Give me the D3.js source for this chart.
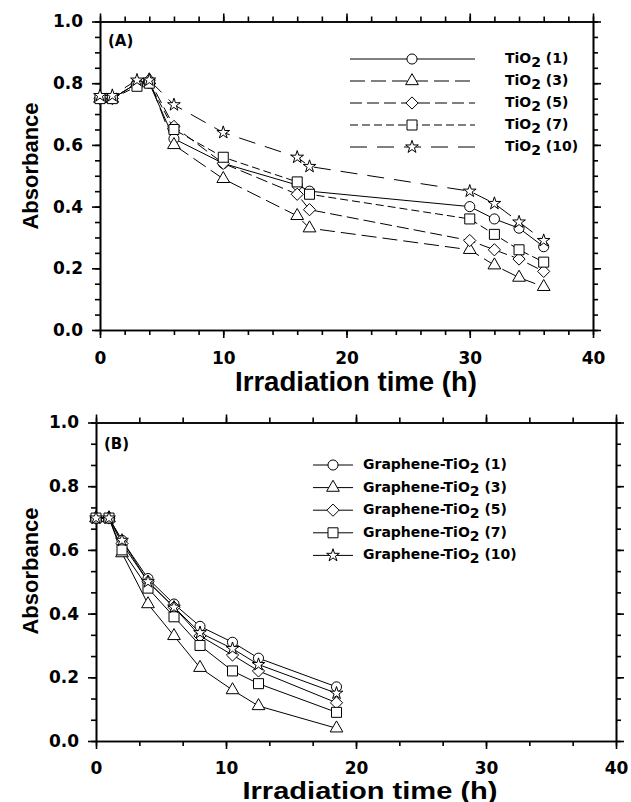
<!DOCTYPE html>
<html>
<head>
<meta charset="utf-8">
<script src="https://cdn.jsdelivr.net/npm/d3@7"></script>
<style>
  body { margin: 0; background: #fff; }
  text { font-family: "Liberation Sans", Arial, sans-serif; font-weight: bold; fill: #000; }
  .tick text, .legend text, .tag { font-family: "DejaVu Sans", sans-serif; font-weight: bold; }
  .tick text { font-size: 17px; }
</style>
</head>
<body>
<div class="chart"></div>
<script>
// panel A: TiO2
const timeA = [0, 1, 3, 4, 6, 10, 16, 17, 30, 32, 34, 36];
const tio2_1 = [0.75, 0.75, 0.80, 0.80, 0.62, 0.54, 0.47, 0.45, 0.40, 0.36, 0.33, 0.27];
const tio2_3 = [0.75, 0.75, 0.80, 0.81, 0.60, 0.49, 0.37, 0.33, 0.26, 0.21, 0.17, 0.14];
const tio2_5 = [0.75, 0.75, 0.80, 0.81, 0.66, 0.54, 0.44, 0.39, 0.29, 0.26, 0.23, 0.19];
const tio2_7 = [0.75, 0.75, 0.79, 0.80, 0.65, 0.56, 0.48, 0.44, 0.36, 0.31, 0.26, 0.22];
const tio2_10 = [0.76, 0.76, 0.81, 0.81, 0.73, 0.64, 0.56, 0.53, 0.45, 0.41, 0.35, 0.29];

// panel B: Graphene-TiO2
const timeB = [0, 1, 2, 4, 6, 8, 10.5, 12.5, 18.5];
const gr_1 = [0.70, 0.70, 0.63, 0.51, 0.43, 0.36, 0.31, 0.26, 0.17];
const gr_3 = [0.70, 0.70, 0.59, 0.43, 0.33, 0.23, 0.16, 0.11, 0.04];
const gr_5 = [0.70, 0.70, 0.62, 0.50, 0.42, 0.33, 0.27, 0.22, 0.12];
const gr_7 = [0.70, 0.70, 0.60, 0.48, 0.39, 0.30, 0.22, 0.18, 0.09];
const gr_10 = [0.70, 0.70, 0.63, 0.50, 0.42, 0.34, 0.29, 0.24, 0.15];

const seriesLabels = ['(1)', '(3)', '(5)', '(7)', '(10)'];
const xTickLabels = [0, 10, 20, 30, 40];
const yTickLabels = [0, 0.2, 0.4, 0.6, 0.8, 1.0];

const symbols = [d3.symbolCircle, d3.symbolTriangle, d3.symbolDiamond2, d3.symbolSquare, d3.symbolStar];
const symSizes = [80, 70, 95, 100, 50];

const svg = d3.select('.chart')
  .append('svg')
  .attr('width', 631)
  .attr('height', 802);

function drawPanel(p) {
  const x = d3.scaleLinear().domain([0, 40]).range([p.left, p.right]);
  const y = d3.scaleLinear().domain([0, 1]).range([p.bottom, p.top]);
  const g = svg.append('g');

  // minor ticks first, then labelled major ticks
  const axes = [
    [d3.axisBottom, `translate(0,${p.bottom})`, x, p.xMinor, xTickLabels, d3.format('d')],
    [d3.axisTop, `translate(0,${p.top})`, x, p.xMinor, xTickLabels, null],
    [d3.axisLeft, `translate(${p.left},0)`, y, p.yMinor, yTickLabels, d3.format('.1f')],
    [d3.axisRight, `translate(${p.right},0)`, y, p.yMinor, yTickLabels, null]
  ];
  axes.forEach(([ax, tr, sc, minor, major, fmt]) => {
    g.append('g').attr('transform', tr)
      .call(ax(sc).tickValues(minor).tickSize(5).tickSizeOuter(0).tickFormat(''));
    const vertical = ax === d3.axisLeft || ax === d3.axisRight;
    g.append('g').attr('transform', tr)
      .call(ax(sc).tickValues(major).tickSize(8).tickSizeOuter(0)
        .tickPadding(vertical ? 9 : p.xPad).tickFormat(fmt || ''));
  });
  g.selectAll('.domain, .tick line').attr('stroke', '#000').attr('stroke-width', 1.6);

  const line = d3.line().x(d => x(d[0])).y(d => y(d[1]));

  p.series.forEach((vals, i) => {
    const pts = vals.map((v, j) => [p.time[j], v]);
    g.append('path')
      .attr('d', line(pts))
      .attr('fill', 'none')
      .attr('stroke', '#000')
      .attr('stroke-width', 1)
      .attr('stroke-dasharray', p.dashes[i]);
  });
  p.series.forEach((vals, i) => {
    g.selectAll(null)
      .data(vals.map((v, j) => [p.time[j], v]))
      .enter()
      .append('path')
      .attr('d', d3.symbol(symbols[i], symSizes[i]))
      .attr('transform', d => `translate(${x(d[0])},${y(d[1])})`)
      .attr('fill', '#fff')
      .attr('stroke', '#000')
      .attr('stroke-width', 1);
  });

  // legend
  const leg = g.append('g').attr('class', 'legend');
  p.series.forEach((vals, i) => {
    const ly = p.leg.y + p.leg.dy * i;
    leg.append('line')
      .attr('x1', p.leg.x1).attr('x2', p.leg.x2)
      .attr('y1', ly).attr('y2', ly)
      .attr('stroke', '#000').attr('stroke-width', 1)
      .attr('stroke-dasharray', p.dashes[i]);
    leg.append('path')
      .attr('d', d3.symbol(symbols[i], symSizes[i]))
      .attr('transform', `translate(${p.leg.xm},${ly})`)
      .attr('fill', '#fff').attr('stroke', '#000');
    const t = leg.append('text')
      .attr('x', p.leg.xt).attr('y', ly + 4)
      .attr('font-size', 14);
    t.append('tspan').text(p.prefix + 'TiO');
    t.append('tspan').attr('dy', 4).text('2');
    t.append('tspan').attr('dy', -4).text(' ' + seriesLabels[i]);
  });

  g.append('text').attr('class', 'tag')
    .attr('x', p.tag[0]).attr('y', p.tag[1])
    .attr('font-size', 15).text(p.tagText);

  g.append('text')
    .attr('transform', `translate(38,${p.yTitle}) rotate(-90)`)
    .attr('text-anchor', 'middle')
    .attr('font-size', 22)
    .text('Absorbance');

  g.append('text')
    .attr('x', p.xTitle.x).attr('y', p.xTitle.y)
    .attr('text-anchor', 'middle')
    .attr('font-size', p.xTitle.size)
    .attr('textLength', p.xTitle.len)
    .attr('lengthAdjust', 'spacingAndGlyphs')
    .text('Irradiation time (h)');
}

drawPanel({
  left: 100, right: 593, top: 21.5, bottom: 330,
  xMinor: d3.range(0, 21).map(i => i * 2),
  yMinor: d3.range(0, 21).map(i => i * 0.05),
  xPad: 14,
  time: timeA,
  series: [tio2_1, tio2_3, tio2_5, tio2_7, tio2_10],
  dashes: [null, '15,6', '12,5', '8,4', '17,10'],
  leg: { x1: 350, x2: 475, xm: 412, xt: 505, y: 59, dy: 22 },
  prefix: '',
  tag: [108, 46], tagText: '(A)',
  yTitle: 166,
  xTitle: { x: 356, y: 391, size: 27, len: 242 }
});

drawPanel({
  left: 96, right: 616, top: 422.5, bottom: 741,
  xMinor: d3.range(0, 13).map(i => i * 10 / 3),
  yMinor: d3.range(0, 16).map(i => i * 0.2 / 3),
  xPad: 13,
  time: timeB,
  series: [gr_1, gr_3, gr_5, gr_7, gr_10],
  dashes: [null, null, null, null, null],
  leg: { x1: 313, x2: 353, xm: 333, xt: 363, y: 465, dy: 22.6 },
  prefix: 'Graphene-',
  tag: [104, 449], tagText: '(B)',
  yTitle: 571,
  xTitle: { x: 370, y: 799, size: 23, len: 255 }
});
</script>
</body>
</html>
